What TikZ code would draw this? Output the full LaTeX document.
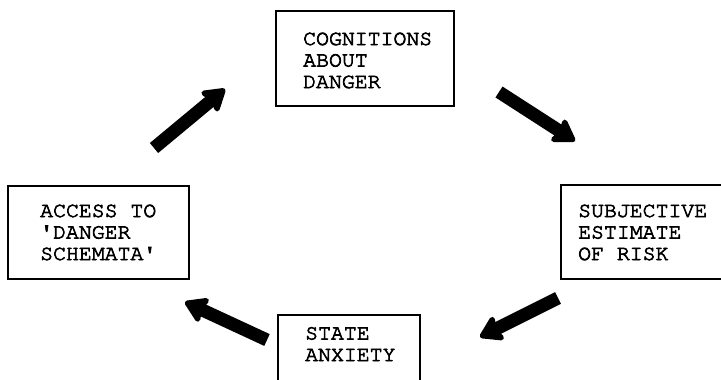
\documentclass[tikz,border=0pt]{standalone}
\usepackage[T1]{fontenc}
\usepackage{courier}
\usetikzlibrary{arrows.meta}
% typewriter text, slightly thickened by filling and stroking the glyphs
\newcommand{\heavytt}[1]{\special{pdf:literal direct 2 Tr 0.7 w}#1\special{pdf:literal direct 0 Tr}}
\begin{document}
\begin{tikzpicture}[x=1pt,y=-1pt,
  box/.style={draw, line width=1.6pt, rectangle, anchor=north west, inner sep=0pt},
  label/.style={anchor=base west, inner sep=0pt, align=left,
    font=\ttfamily\fontsize{21.5}{21.5}\selectfont},
  fatarrow/.style={line width=13pt,
    -{Stealth[width=31pt,length=25pt,inset=4pt,round]}}]
  \useasboundingbox (0,0) rectangle (721,380);
  \clip (0,0) rectangle (721,380);
  % boxes
  \node[box, minimum width=178pt, minimum height=95pt] (top) at (275,10) {};
  \node[box, minimum width=180pt, minimum height=94pt] (right) at (560,184) {};
  \node[box, minimum width=181pt, minimum height=93pt] (left) at (7,185) {};
  \node[box, minimum width=142pt, minimum height=90pt] (bottom) at (277,314) {};
  % texts (anchored at the baseline of their last line)
  \node[label] (ttop) at (303,88) {\heavytt{COGNITIONS}\\\heavytt{ABOUT}\\\heavytt{DANGER}};
  \node[label] (tright) at (578,260) {\heavytt{SUBJECTIVE}\\\heavytt{ESTIMATE}\\\heavytt{OF RISK}};
  \node[label] (tleft) at (40,260) {\heavytt{ACCESS TO}\\\heavytt{\textquotesingle DANGER}\\\heavytt{SCHEMATA\textquotesingle}};
  \node[label] (tbottom) at (305,361) {\heavytt{STATE}\\\heavytt{ANXIETY}};
  % arrow ends
  \coordinate (a1s) at (154,148); \coordinate (a1e) at (225,89);
  \coordinate (a2s) at (499,92);  \coordinate (a2e) at (575,141);
  \coordinate (a3s) at (558,298); \coordinate (a3e) at (480,337);
  \coordinate (a4s) at (267,340); \coordinate (a4e) at (185,302);
  \draw[fatarrow] (a1s) -- (a1e);
  \draw[fatarrow] (a2s) -- (a2e);
  \draw[fatarrow] (a3s) -- (a3e);
  \draw[fatarrow] (a4s) -- (a4e);
\end{tikzpicture}
\end{document}
